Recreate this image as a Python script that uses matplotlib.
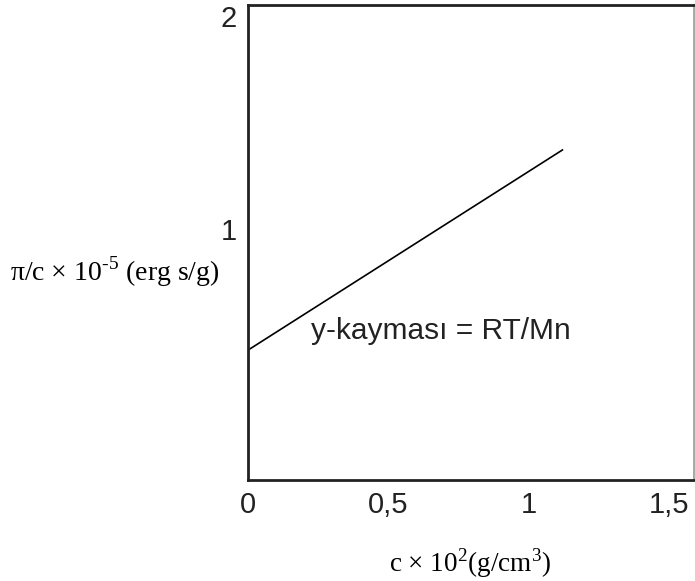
import numpy as np
import matplotlib.pyplot as plt

plt.rcParams['mathtext.fontset'] = 'custom'
plt.rcParams['mathtext.rm'] = 'Liberation Serif'

# line: intercept ~0.43, ends near c = 1.12
c_vals = [0.0, 1.12]
pi_c_vals = [0.43, 1.37]

x_ticks = [0, 0.5, 1, 1.5]
x_labels = ['0', '0,5', '1', '1,5']
y_ticks = [1, 2]
y_labels = ['1', '2']

fig = plt.figure(figsize=(6.95, 5.81), dpi=100)
ax = fig.add_axes([0.357, 0.174, 0.642, 0.817])

ax.plot(c_vals, pi_c_vals, color='black', linewidth=1.2)

ax.set_xlim(0, 1.59)
ax.set_ylim(-0.18, 2.05)

ax.set_xticks(x_ticks)
ax.set_xticklabels(x_labels, fontfamily='Liberation Sans', fontsize=21, color='#222222')
ax.set_yticks(y_ticks)
ax.set_yticklabels(y_labels, fontfamily='Liberation Sans', fontsize=21, color='#222222')
ax.tick_params(length=0, pad=8)

for side in ['left', 'bottom', 'top']:
    ax.spines[side].set_linewidth(2)
    ax.spines[side].set_color('#222222')
ax.spines['right'].set_linewidth(1.2)
ax.spines['right'].set_color('#999999')

ax.text(0.225, 0.52, 'y-kayması = RT/Mn', fontfamily='Liberation Sans',
        fontsize=21.5, color='#222222', va='center')

fig.text(0.014, 0.532, r'π/c × 10$^{\mathrm{‐5}}$ (erg s/g)', fontfamily='Liberation Serif',
         fontsize=20, va='center', ha='left')
fig.text(0.676, 0.031, r'c × 10$^{\mathrm{2}}$(g/cm$^{\mathrm{3}}$)', fontfamily='Liberation Serif',
         fontsize=19.5, va='center', ha='center')

fig.savefig('out.png', dpi=100)
